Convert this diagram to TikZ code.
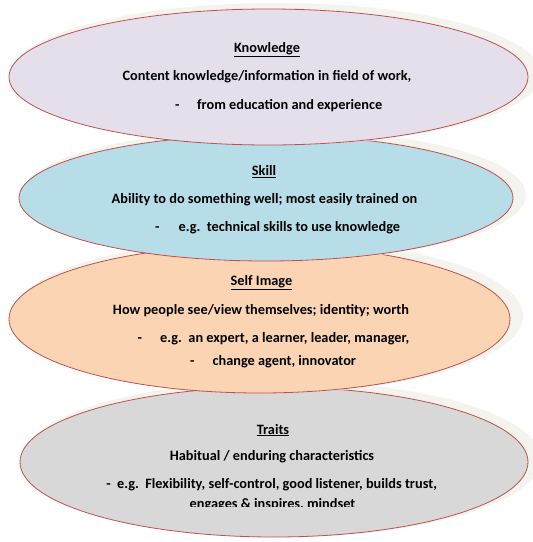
\documentclass[tikz,border=0pt]{standalone}
\usepackage{fontspec}
\setmainfont{Carlito}
\usetikzlibrary{shapes.geometric,positioning}
\definecolor{rimcolor}{RGB}{192,80,77}
\definecolor{knowcolor}{RGB}{229,223,236}
\definecolor{skillcolor}{RGB}{183,221,232}
\definecolor{selfcolor}{RGB}{251,212,180}
\definecolor{traitcolor}{RGB}{216,216,216}
\definecolor{shadecolor}{RGB}{244,243,238}
\tikzset{
  lobe/.style={ellipse, draw=rimcolor, line width=0.8pt, inner sep=0pt},
  lobeshade/.style={ellipse, fill=shadecolor, inner sep=0pt},
  hdr/.style={font=\bfseries\fontsize{14.3}{16}\selectfont, inner sep=0pt, anchor=base},
  txt/.style={font=\bfseries\fontsize{14.3}{16}\selectfont, inner sep=0pt, anchor=base},
  dashtxt/.style={txt, anchor=base west},
}

\begin{document}
\begin{tikzpicture}[x=1pt,y=-1pt]
    \useasboundingbox (0,0) rectangle (533,542);
    % layers, drawn from the bottom one up
    \foreach \nm/\cx/\cy/\rx/\ry/\col in {
        trait/274/462/254/75/traitcolor,
        self/259.5/319/250.5/74/selfcolor,
        skill/266/198/247/63/skillcolor,
        know/268.5/77/259.5/68/knowcolor} {
      \node[lobeshade, minimum width=2*\rx+10, minimum height=2*\ry+6]
        (\nm-sh) at (\cx+8,\cy-3) {};
      \node[lobe, fill=\col, minimum width=2*\rx, minimum height=2*\ry]
        (\nm) at (\cx,\cy) {};
    }
    % Knowledge
    \node[hdr] (know-t) at (267,52.5) {\underline{Knowledge}};
    \node[txt] (know-a) at (267,80.7) {Content knowledge/information in field of work,};
    \node[dashtxt] (know-d) at (175,109) {-};
    \node[dashtxt] (know-b) at (197,109) {from education and experience};
    % Skill
    \node[hdr] (skill-t) at (264,175.5) {\underline{Skill}};
    \node[txt] (skill-a) at (264.5,203) {Ability to do something well; most easily trained on};
    \node[dashtxt] (skill-d) at (155,231) {-};
    \node[dashtxt] (skill-b) at (178.5,231) {e.g.\ \ technical skills to use knowledge};
    % Self Image
    \node[hdr] (self-t) at (261.5,285.5) {\underline{Self Image}};
    \node[txt] (self-a) at (261,314) {How people see/view themselves; identity; worth};
    \node[dashtxt] (self-d1) at (137.5,342) {-};
    \node[dashtxt] (self-b) at (160,342) {e.g.\ \ an expert, a learner, leader, manager,};
    \node[dashtxt] (self-d2) at (190,365.5) {-};
    \node[dashtxt] (self-c) at (212.5,365.5) {change agent, innovator};
    % Traits
    \node[hdr] (trait-t) at (273,434) {\underline{Traits}};
    \node[txt] (trait-a) at (272,460.7) {Habitual / enduring characteristics};
    \node[txt] (trait-b) at (271.6,488.3) {-\ \ e.g.\ \ Flexibility,\ self-control, good listener, builds trust,};
    \begin{scope}
      \clip (0,0) rectangle (533,506.5);
      \node[txt] (trait-c) at (272.5,508) {engages \& inspires, mindset};
    \end{scope}
\end{tikzpicture}
\end{document}
